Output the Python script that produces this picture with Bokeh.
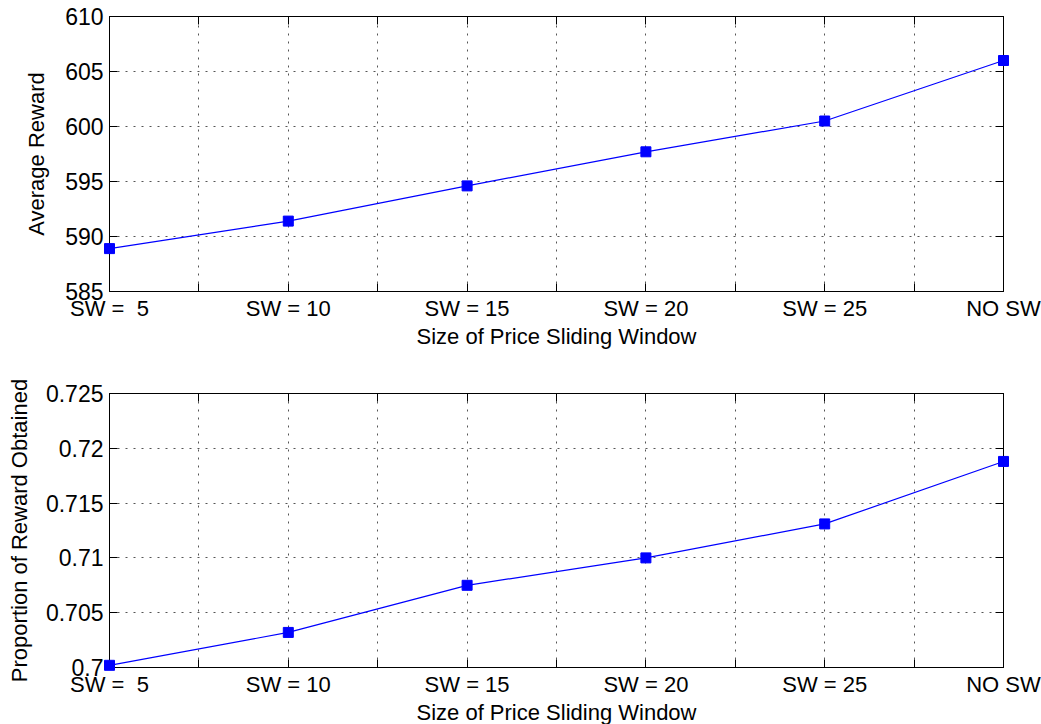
from bokeh.plotting import figure
from bokeh.layouts import column
from bokeh.models import FixedTicker, LinearAxis, Range1d
from bokeh.embed import file_html
from bokeh.resources import INLINE

# ---- data ----
categories = ["SW =\u00a0 5", "SW = 10", "SW = 15", "SW = 20", "SW = 25", "NO SW"]
avg_reward = [588.9, 591.4, 594.6, 597.7, 600.5, 606.0]
prop_reward = [0.7002, 0.7032, 0.7075, 0.7100, 0.7131, 0.7188]
top_yticks = [585, 590, 595, 600, 605, 610]
top_ytick_labels = ["585", "590", "595", "600", "605", "610"]
bottom_yticks = [0.7, 0.705, 0.71, 0.715, 0.72, 0.725]
bottom_ytick_labels = ["0.7", "0.705", "0.71", "0.715", "0.72", "0.725"]
x_title = "Size of Price Sliding Window"
top_ylabel = "Average Reward"
bottom_ylabel = "Proportion of Reward Obtained"

FONT = "Liberation Sans"
XFS = "22px"
YFS = "23px"
xpos = list(range(len(categories)))
x_major = [float(i) for i in xpos]
x_minor = [i + 0.5 for i in xpos[:-1]]


def make_plot(values, yticks, ylabels, ylabel, height, b_top, b_bottom, f_h, lab_standoff):
    p = figure(width=1041, height=height, frame_width=894, frame_height=f_h,
               output_backend="svg", toolbar_location=None,
               x_range=Range1d(xpos[0], xpos[-1]),
               y_range=Range1d(yticks[0], yticks[-1]),
               min_border_left=109, min_border_right=38,
               min_border_top=b_top, min_border_bottom=b_bottom)
    p.background_fill_color = "white"
    p.border_fill_color = "white"
    p.outline_line_color = "black"
    p.outline_line_width = 1

    xt = FixedTicker(ticks=x_major, minor_ticks=x_minor)
    yt = FixedTicker(ticks=yticks)

    xa = p.xaxis[0]
    xa.ticker = xt
    xa.major_label_overrides = {int(i): c for i, c in zip(xpos, categories)}
    ya = p.yaxis[0]
    ya.ticker = yt
    ya.major_label_overrides = {t: l for t, l in zip(yticks, ylabels)}

    for ax in (xa, ya):
        ax.major_tick_in = 8
        ax.major_tick_out = 0
        ax.minor_tick_in = 8
        ax.minor_tick_out = 0
        ax.axis_line_color = "black"
        ax.major_tick_line_color = "black"
        ax.minor_tick_line_color = "black"
        ax.major_label_text_font = FONT
        ax.major_label_text_color = "black"
        ax.axis_label_text_font = FONT
        ax.axis_label_text_font_style = "normal"
        ax.axis_label_text_color = "black"
    ya.minor_tick_line_color = None
    xa.major_label_text_font_size = XFS
    xa.major_label_standoff = 4
    xa.axis_label = x_title
    xa.axis_label_text_font_size = XFS
    xa.axis_label_standoff = 0
    ya.major_label_text_font_size = YFS
    ya.major_label_standoff = 6
    ya.axis_label = ylabel
    ya.axis_label_text_font_size = "22px"
    ya.axis_label_standoff = lab_standoff

    # box ticks on top and right
    top_ax = LinearAxis(ticker=FixedTicker(ticks=x_major, minor_ticks=x_minor),
                        major_label_text_color=None, major_label_text_font_size="1px",
                        major_tick_in=8, major_tick_out=0, minor_tick_in=8, minor_tick_out=0,
                        axis_line_color="black", major_tick_line_color="black",
                        minor_tick_line_color="black", major_label_standoff=0)
    right_ax = LinearAxis(ticker=FixedTicker(ticks=yticks),
                          major_label_text_color=None, major_label_text_font_size="1px",
                          major_tick_in=8, major_tick_out=0,
                          axis_line_color="black", major_tick_line_color="black",
                          minor_tick_line_color=None, major_label_standoff=0)
    p.add_layout(top_ax, "above")
    p.add_layout(right_ax, "right")

    # dotted grid
    p.xgrid.ticker = xt
    p.ygrid.ticker = yt
    for g in (p.xgrid, p.ygrid):
        g.grid_line_color = "#555555"
        g.grid_line_dash = "2 6"
        g.grid_line_width = 1
    p.xgrid.minor_grid_line_color = "#555555"
    p.xgrid.minor_grid_line_dash = "2 6"
    p.xgrid.minor_grid_line_width = 1

    p.line(xpos, values, line_color="#0000ff", line_width=1.2)
    r = p.scatter(xpos, values, marker="square", size=10,
                  fill_color="#0000ff", line_color="#0000ff")
    r.level = "overlay"
    return p


p1 = make_plot(avg_reward, top_yticks, top_ytick_labels, top_ylabel,
               362, 16, 70, 275, 13)
p2 = make_plot(prop_reward, bottom_yticks, bottom_ytick_labels, bottom_ylabel,
               362, 32, 55, 274, 11)

layout = column(p1, p2, spacing=0)
open("out.html", "w").write(file_html(layout, INLINE))
